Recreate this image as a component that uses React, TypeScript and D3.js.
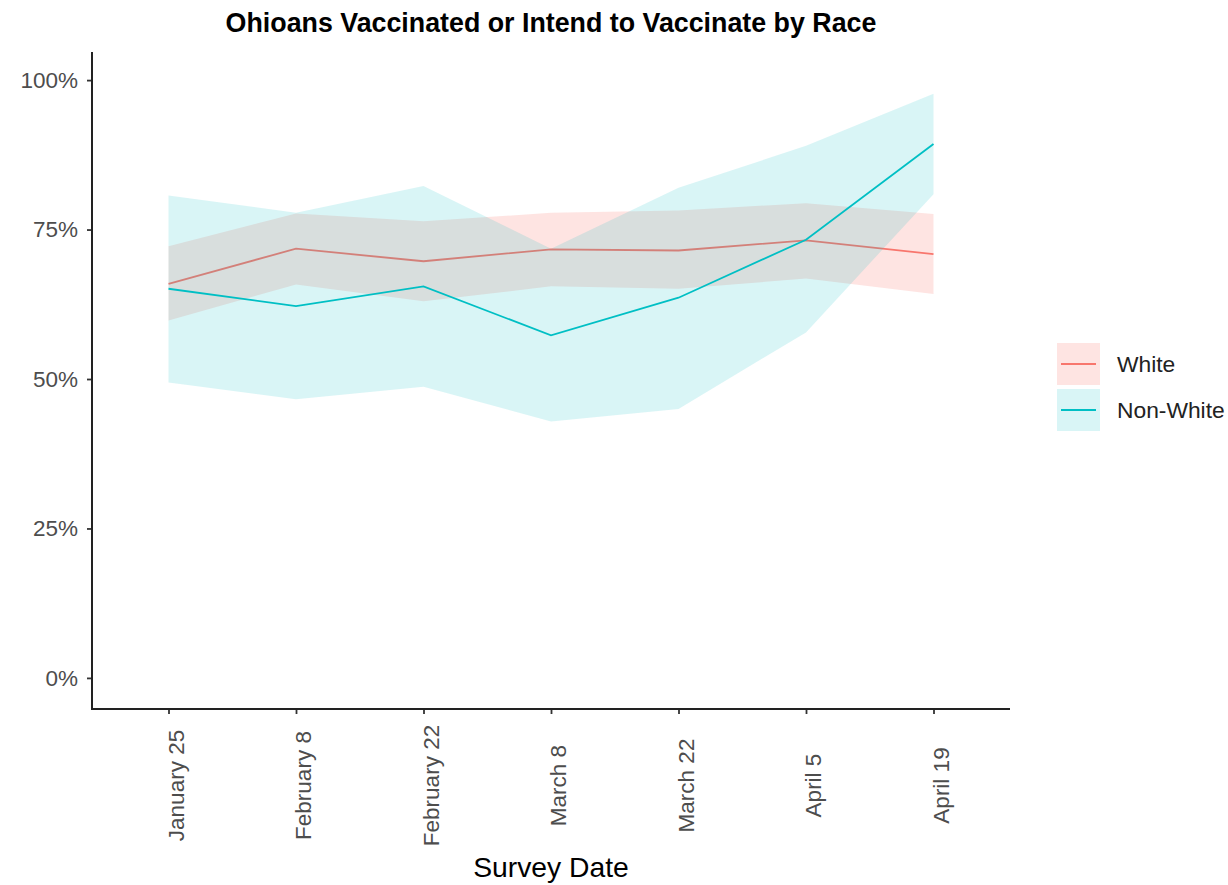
// Ohioans vaccinated or intending to vaccinate, by race
import React, { useEffect, useRef } from 'react';
import * as d3 from 'd3';

const surveyDates = [
  'January 25',
  'February 8',
  'February 22',
  'March 8',
  'March 22',
  'April 5',
  'April 19',
];

const whiteMean = [0.659, 0.718, 0.697, 0.717, 0.715, 0.732, 0.709];
const whiteLow = [0.598, 0.658, 0.630, 0.655, 0.651, 0.668, 0.642];
const whiteHigh = [0.722, 0.777, 0.764, 0.778, 0.782, 0.794, 0.776];

const nonWhiteMean = [0.651, 0.622, 0.655, 0.573, 0.636, 0.733, 0.893];
const nonWhiteLow = [0.494, 0.466, 0.487, 0.429, 0.450, 0.578, 0.809];
const nonWhiteHigh = [0.807, 0.778, 0.823, 0.718, 0.820, 0.890, 0.977];

const yTicks = [0, 0.25, 0.5, 0.75, 1];

const seriesNames = ['White', 'Non-White'];
const seriesColors = ['#F8766D', '#00BFC4'];
const seriesFillOpacity = [0.2, 0.15];

const FONT = '"Liberation Sans", Arial, Helvetica, sans-serif';

const App: React.FC = () => {
  const svgRef = useRef<SVGSVGElement>(null);

  useEffect(() => {
    if (!svgRef.current) return;
    const svg = d3.select(svgRef.current);
    svg.selectAll('*').remove();

    const width = 1228;
    const height = 885;
    const plot = { left: 92, right: 1010, top: 52, bottom: 709 };

    svg.attr('width', width).attr('height', height);

    const x = d3.scalePoint<string>()
      .domain(surveyDates)
      .range([plot.left, plot.right])
      .padding(0.6);

    const y = d3.scaleLinear()
      .domain([-0.052, 1.047])
      .range([plot.bottom, plot.top]);

    const series = [
      { mean: whiteMean, low: whiteLow, high: whiteHigh },
      { mean: nonWhiteMean, low: nonWhiteLow, high: nonWhiteHigh },
    ];

    const line = d3.line<number>()
      .x((_, i) => x(surveyDates[i]) as number)
      .y(d => y(d));

    // Ribbons and lines, white first then non-white
    series.forEach((s, k) => {
      const ribbon = d3.area<number>()
        .x((_, i) => x(surveyDates[i]) as number)
        .y0((_, i) => y(s.low[i]))
        .y1((_, i) => y(s.high[i]));

      svg.append('path')
        .datum(s.mean)
        .attr('d', ribbon)
        .attr('fill', seriesColors[k])
        .attr('fill-opacity', seriesFillOpacity[k]);

      svg.append('path')
        .datum(s.mean)
        .attr('d', line)
        .attr('fill', 'none')
        .attr('stroke', seriesColors[k])
        .attr('stroke-width', 1.8);
    });

    // Axes
    const yAxis = d3.axisLeft(y)
      .tickValues(yTicks)
      .tickSize(5)
      .tickPadding(9)
      .tickFormat(d => `${Math.round(+d * 100)}%`);

    const gy = svg.append('g')
      .attr('transform', `translate(${plot.left},0)`)
      .call(yAxis);
    gy.select('.domain').remove();
    gy.selectAll('line').attr('stroke', '#333').attr('stroke-width', 1.8);
    gy.selectAll('text')
      .attr('fill', '#4d4d4d')
      .style('font-family', FONT)
      .style('font-size', '22.5px');

    svg.append('line')
      .attr('x1', plot.left).attr('x2', plot.left)
      .attr('y1', plot.top).attr('y2', plot.bottom)
      .attr('stroke', '#222')
      .attr('stroke-width', 2);

    const xAxis = d3.axisBottom(x).tickSize(5).tickFormat(() => '');
    const gx = svg.append('g')
      .attr('transform', `translate(0,${plot.bottom})`)
      .call(xAxis);
    gx.select('.domain').remove();
    gx.selectAll('line').attr('stroke', '#333').attr('stroke-width', 1.8);

    svg.append('line')
      .attr('x1', plot.left - 1).attr('x2', plot.right)
      .attr('y1', plot.bottom).attr('y2', plot.bottom)
      .attr('stroke', '#222')
      .attr('stroke-width', 2);

    // Rotated x labels, centred on a common line
    svg.append('g')
      .selectAll('text')
      .data(surveyDates)
      .enter()
      .append('text')
      .attr('transform', d => `translate(${(x(d) as number) + 15},785.5) rotate(-90)`)
      .attr('text-anchor', 'middle')
      .attr('fill', '#4d4d4d')
      .style('font-family', FONT)
      .style('font-size', '22.5px')
      .text(d => d);

    // Axis title
    svg.append('text')
      .attr('x', (plot.left + plot.right) / 2)
      .attr('y', 877)
      .attr('text-anchor', 'middle')
      .attr('fill', '#000')
      .style('font-family', FONT)
      .style('font-size', '28.3px')
      .text('Survey Date');

    // Title
    svg.append('text')
      .attr('x', (plot.left + plot.right) / 2)
      .attr('y', 32)
      .attr('text-anchor', 'middle')
      .attr('fill', '#000')
      .style('font-family', FONT)
      .style('font-size', '26.8px')
      .style('font-weight', 'bold')
      .text('Ohioans Vaccinated or Intend to Vaccinate by Race');

    // Legend
    const legend = svg.append('g').attr('transform', 'translate(1057,343)');
    seriesNames.forEach((name, k) => {
      const row = legend.append('g').attr('transform', `translate(0,${k * 46})`);
      row.append('rect')
        .attr('width', 43)
        .attr('height', 42)
        .attr('fill', seriesColors[k])
        .attr('fill-opacity', seriesFillOpacity[k]);
      row.append('line')
        .attr('x1', 4).attr('x2', 39)
        .attr('y1', 21).attr('y2', 21)
        .attr('stroke', seriesColors[k])
        .attr('stroke-width', 1.8);
      row.append('text')
        .attr('x', 60)
        .attr('y', 21)
        .attr('dy', '0.35em')
        .attr('fill', '#222')
        .style('font-family', FONT)
        .style('font-size', '22.8px')
        .text(name);
    });
  }, []);

  return (
    <div style={{ position: 'absolute', left: 0, top: 0 }}>
      <svg ref={svgRef} style={{ display: 'block' }}></svg>
    </div>
  );
};

export default App;
